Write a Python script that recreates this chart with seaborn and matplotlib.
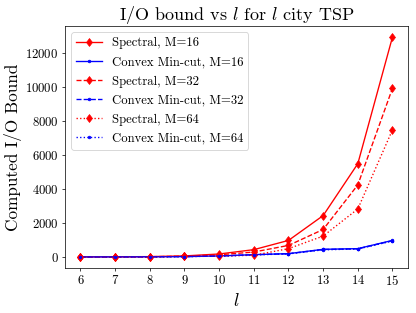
import matplotlib
matplotlib.use("Agg")
import matplotlib.pyplot as plt
import seaborn as sns

# city counts and computed bounds
l_vals = [6, 7, 8, 9, 10, 11, 12, 13, 14, 15]
spectral_16 = [3, 8, 20, 60, 175, 430, 975, 2440, 5500, 12970]
spectral_32 = [2, 6, 15, 45, 130, 290, 680, 1620, 4250, 9950]
spectral_64 = [1, 4, 10, 30, 50, 100, 490, 1230, 2830, 7500]
convex_16 = [1, 3, 8, 20, 60, 135, 195, 450, 490, 975]
convex_32 = [1, 3, 8, 20, 55, 130, 190, 440, 480, 960]
convex_64 = [1, 3, 7, 18, 50, 120, 180, 420, 470, 940]

plt.rcParams['font.family'] = 'serif'
plt.rcParams['font.serif'] = ['cmr10', 'DejaVu Serif']
plt.rcParams['mathtext.fontset'] = 'cm'
plt.rcParams['axes.formatter.use_mathtext'] = True

fig, ax = plt.subplots(figsize=(416 / 65, 313 / 65), dpi=65)

series = [
    (spectral_16, 'Spectral, M=16', 'red', '-', 'd'),
    (convex_16, 'Convex Min-cut, M=16', 'blue', '-', '.'),
    (spectral_32, 'Spectral, M=32', 'red', '--', 'd'),
    (convex_32, 'Convex Min-cut, M=32', 'blue', '--', '.'),
    (spectral_64, 'Spectral, M=64', 'red', ':', 'd'),
    (convex_64, 'Convex Min-cut, M=64', 'blue', ':', '.'),
]
for vals, name, col, ls, mk in series:
    sns.lineplot(x=l_vals, y=vals, ax=ax, color=col, linestyle=ls, marker=mk,
                 markersize=7 if mk == 'd' else 6, markeredgecolor=col,
                 linewidth=1.5, label=name)

ax.set_xticks(l_vals)
ax.set_yticks([0, 2000, 4000, 6000, 8000, 10000, 12000])
ax.tick_params(labelsize=14)
ax.set_title(r'I/O bound vs $l$ for $l$ city TSP', fontsize=20)
ax.set_xlabel(r'$l$', fontsize=20)
ax.set_ylabel('Computed I/O Bound', fontsize=19)
ax.legend(loc='upper left', fontsize=14, labelspacing=0.55)

fig.subplots_adjust(left=0.156, right=0.981, top=0.917, bottom=0.144)
fig.savefig('out.png', dpi=65)
